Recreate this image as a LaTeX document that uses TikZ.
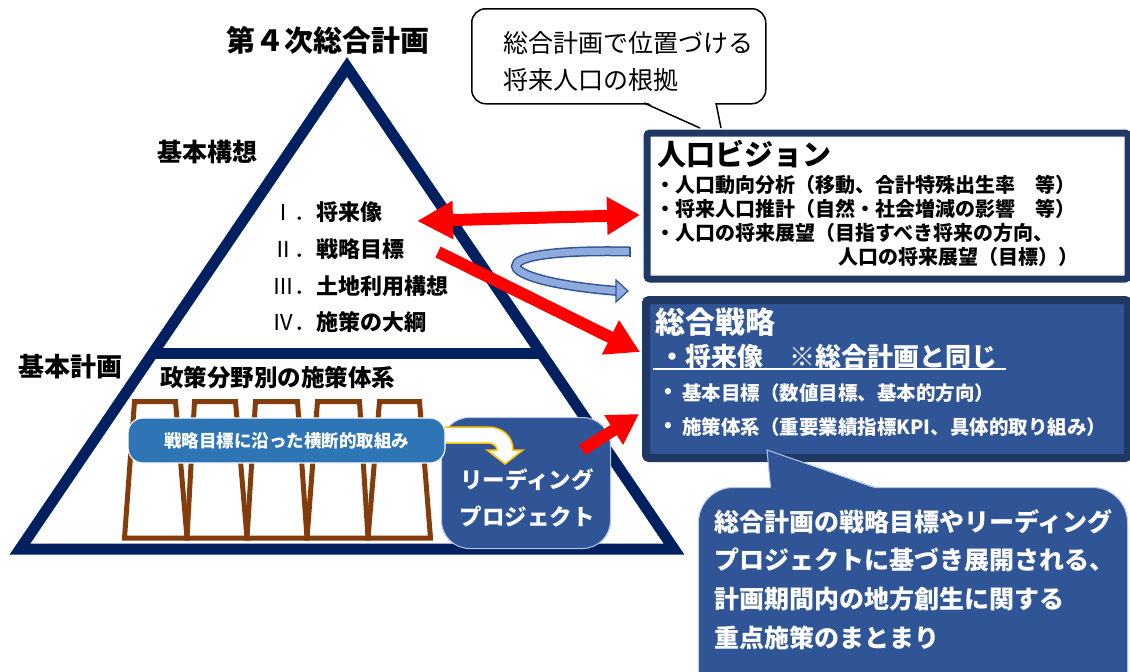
\documentclass[tikz,border=0pt]{standalone}
\usepackage{fontspec}
\setmainfont{Noto Sans CJK JP}
\usetikzlibrary{arrows.meta}
\definecolor{navy}{HTML}{002060}
\definecolor{boxborder}{HTML}{203864}
\definecolor{boxfill}{HTML}{2F5597}
\definecolor{brownc}{HTML}{843C0C}
\definecolor{midblue}{HTML}{2E75B6}
\definecolor{lightblue}{HTML}{8FAADC}
\definecolor{goldc}{HTML}{FFC000}
\definecolor{paleline}{HTML}{B4C7E7}
\newcommand\fsz[1]{\fontsize{#1}{#1}\selectfont}
\begin{document}
\begin{tikzpicture}[x=1pt,y=-1pt,
  lbl/.style={inner sep=0pt, outer sep=0pt},
  btxt/.style={lbl, font={\fsz{#1}\bfseries}},
  rtxt/.style={lbl, font={\fsz{#1}}},
  wtxt/.style={lbl, text=white, font={\fsz{#1}\bfseries}},
  redarrow/.style={draw=red, line width=12pt},
  pillar/.style={draw=brownc, line width=5pt, line join=miter},
  tri/.style={draw=navy, line width=11pt, line join=miter},
]
\useasboundingbox (0,0) rectangle (1130,672);
\clip (0,0) rectangle (1130,672);
\fill[white] (0,0) rectangle (1130,672);

% ---------- pyramid ----------
\coordinate (apex) at (347,67);
\coordinate (bl) at (20,549);
\coordinate (br) at (674,549);
\draw[tri] (apex) -- (br) -- (bl) -- cycle;
\coordinate (dl) at (152.6,353.5);
\coordinate (dr) at (541.4,353.5);
\draw[tri] (dl) -- (dr);

\node[btxt=29] (title) at (328,40) {第４次総合計画};
\node[btxt=25] (koso) at (207,152) {基本構想};
\node[btxt=26] (keikaku) at (70,367) {基本計画};

\node[rtxt=22, anchor=east] (n1) at (316,212) {Ⅰ．};
\node[btxt=22, anchor=west] (i1) at (316,212) {将来像};
\node[rtxt=22, anchor=east] (n2) at (316,249) {Ⅱ．};
\node[btxt=22, anchor=west] (i2) at (316,249) {戦略目標};
\node[rtxt=22, anchor=east] (n3) at (316,286) {Ⅲ．};
\node[btxt=22, anchor=west] (i3) at (316,286) {土地利用構想};
\node[rtxt=22, anchor=east] (n4) at (316,322) {Ⅳ．};
\node[btxt=22, anchor=west] (i4) at (316,322) {施策の大綱};

\node[btxt=23.5, anchor=west] (bunya) at (160,378) {政策分野別の施策体系};

% pillars
\draw[pillar] (134.5,401.5) -- (175.5,401.5) -- (187,538) -- (124.5,538) -- cycle;
\draw[pillar] (194.5,401.5) -- (235.5,401.5) -- (247,538) -- (187,538) -- cycle;
\draw[pillar] (255.5,401.5) -- (297.5,401.5) -- (307,538) -- (247,538) -- cycle;
\draw[pillar] (317.5,401.5) -- (359.5,401.5) -- (368,538) -- (307,538) -- cycle;
\draw[pillar] (379.5,401.5) -- (419.5,401.5) -- (430.5,538) -- (368,538) -- cycle;

% leading project box
\node[fill=boxfill, draw=paleline, line width=1pt, rounded corners=28pt,
      minimum width=169pt, minimum height=131pt, anchor=north west] (lead) at (441,417) {};
\node[wtxt=22.5] (lead1) at (527,480) {リーディング};
\node[wtxt=22.5] (lead2) at (527,517) {プロジェクト};

% bent arrow
\draw[draw=goldc, line width=1.5pt, fill=white, line join=miter]
  (440,427) -- (488,427) .. controls (502,427) and (513,436) .. (513,450)
  -- (523,450) -- (505,464) -- (487,450) -- (497,450)
  .. controls (497,446) and (493,443) .. (488,443) -- (440,443) -- cycle;

% cross-cutting bar
\node[fill=midblue, draw=white, line width=1.2pt, rounded corners=15pt,
      minimum width=317pt, minimum height=45pt, inner sep=0pt,
      text=white, font={\fsz{17.5}\bfseries}] (cross) at (286.5,440.5) {戦略目標に沿った横断的取組み};

% ---------- red arrows ----------
\coordinate (dL) at (417,221);
\coordinate (dR) at (640,215);
\draw[redarrow, {Triangle[length=36pt,width=36pt]}-{Triangle[length=33pt,width=36pt]}] (dL) -- (dR);
\coordinate (r2s) at (438,252);
\coordinate (r2e) at (640,352);
\draw[redarrow, -{Triangle[length=33pt,width=36pt]}] (r2s) -- (r2e);
\coordinate (r3s) at (582,450);
\coordinate (r3e) at (639,414);
\draw[redarrow, -{Triangle[length=30pt,width=33pt]}] (r3s) -- (r3e);

% ---------- note bubble ----------
\node[draw=black, line width=1.5pt, fill=white, rounded corners=14pt,
      minimum width=294pt, minimum height=95pt, anchor=north west] (note) at (471,8) {};
\fill[white] (646,102) -- (700,128) -- (721,128) -- (715,102) -- cycle;
\draw[line width=1.5pt] (644,103) -- (700,128);
\draw[line width=1.5pt] (716,103) -- (721,128);
\node[rtxt=25, anchor=west] (note1) at (503,43) {総合計画で位置づける};
\node[rtxt=25, anchor=west] (note2) at (503,80) {将来人口の根拠};

% ---------- vision box ----------
\node[draw=boxborder, line width=7pt, fill=white, rounded corners=3pt,
      minimum width=481pt, minimum height=146pt, anchor=north west] (vision) at (643.5,129.5) {};
\node[btxt=29, anchor=west] (vtitle) at (657,154) {人口ビジョン};
\node[btxt=20, anchor=west] (v1) at (655,185) {・人口動向分析（移動、合計特殊出生率　等）};
\node[btxt=20, anchor=west] (v2) at (655,209) {・将来人口推計（自然・社会増減の影響　等）};
\node[btxt=20, anchor=west] (v3) at (655,233) {・人口の将来展望（目指すべき将来の方向、};
\node[btxt=20, anchor=east] (v4) at (1078,257) {人口の将来展望（目標））};

% U-turn arrow
\draw[draw=boxfill, line width=1.5pt, double=lightblue, double distance=7pt]
  (630,251.5) .. controls (470,248) and (490,281) .. (618,291);
\draw[boxfill, line width=1.5pt] (630,246.5) -- (630,256.5);
\draw[draw=boxfill, fill=lightblue, line width=1.2pt, line join=miter]
  (616,280) -- (628,291) -- (616,302) -- cycle;

% ---------- strategy box ----------
\node[draw=boxborder, line width=8pt, fill=boxfill, rounded corners=3pt,
      minimum width=482pt, minimum height=158pt, anchor=north west] (senryaku) at (642,296) {};
\node[wtxt=30, anchor=west] (stitle) at (655,322) {総合戦略};
\node[wtxt=26, anchor=west] (s0) at (659,357) {・将来像　※総合計画と同じ};
\draw[white, line width=2pt] (653,369) -- (1006,369);
\node[wtxt=19.5] (b1) at (668,393) {•};
\node[wtxt=19.5, anchor=west] (s1) at (682,393) {基本目標（数値目標、基本的方向）};
\node[wtxt=19.5] (b2) at (668,427) {•};
\node[wtxt=19.5, anchor=west] (s2) at (682,427) {施策体系（重要業績指標KPI、具体的取り組み）};

% ---------- bottom bubble ----------
\node[fill=boxfill, draw=paleline, line width=1pt, rounded corners=35pt,
      minimum width=429pt, minimum height=220pt, anchor=north west] (bubble) at (698,487) {};
\fill[boxfill] (771,489) -- (767,450) -- (877,489) -- cycle;
\draw[paleline, line width=1pt] (770.5,487.5) -- (767,450) -- (876,487.5);
\node[wtxt=25, anchor=west] (m1) at (714,522) {総合計画の戦略目標やリーディング};
\node[wtxt=25, anchor=west] (m2) at (714,560) {プロジェクトに基づき展開される、};
\node[wtxt=25, anchor=west] (m3) at (714,599) {計画期間内の地方創生に関する};
\node[wtxt=25, anchor=west] (m4) at (714,638) {重点施策のまとまり};
\end{tikzpicture}
\end{document}
